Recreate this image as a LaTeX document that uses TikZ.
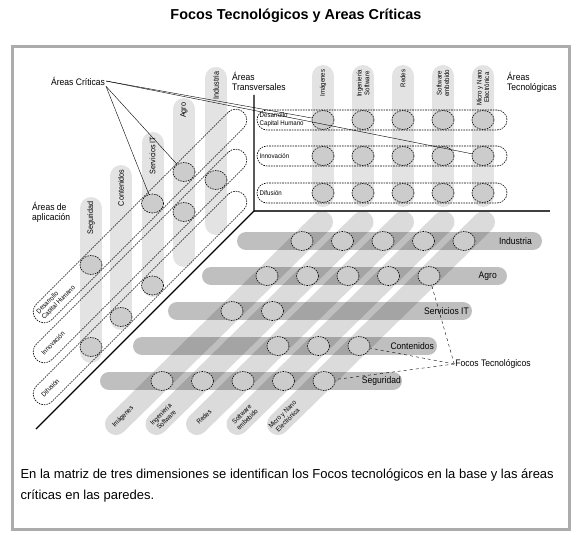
\documentclass[tikz,border=0pt]{standalone}
\usepackage{fontspec}
\setmainfont{Liberation Sans}
\newfontfamily\narrowfont{Liberation Sans}[FakeStretch=0.9]
\usetikzlibrary{shapes.geometric}

\begin{document}
\begin{tikzpicture}[x=1pt,y=-1pt,
    foco/.style={ellipse,draw,fill=gray!40,line width=0.6pt,dash pattern=on 1.6pt off 1pt,minimum width=22pt,minimum height=19pt,inner sep=0pt},
    capsula/.style={draw,line width=0.6pt,dash pattern=on 1.6pt off 1pt,rounded corners=10pt,minimum height=20pt,inner sep=0pt},
    barra/.style={line width=22pt,line cap=round,gray!22},
    fila/.style={line width=18pt,line cap=round,black,opacity=0.25},
    columna/.style={line width=22pt,line cap=round,black,opacity=0.14},
    etiq/.style={font=\narrowfont\fontsize{9.5}{10.5}\selectfont,inner sep=1pt},
    rotulo/.style={font=\narrowfont\fontsize{8}{8}\selectfont,inner sep=0.5pt},
    mini/.style={font=\narrowfont\fontsize{6.8}{7.6}\selectfont,inner sep=0.5pt,align=center}]
  \useasboundingbox (0,0) rectangle (582,535);
  \node[font=\bfseries\fontsize{14.4}{16}\selectfont] (titulo) at (296,16) {Focos Tecnológicos y Areas Críticas};
  \draw[line width=3pt,gray!65] (12,47) rectangle (569,529);

  % base
  \foreach \k in {0,...,4} \draw[columna] (322+40.5*\k,222) -- (116+40.5*\k,424);
  \foreach \a/\b/\y in {246/533/241,211/498/276,177/463/311,142/428/346,109/393/381}
    \draw[fila] (\a,\y) -- (\b,\y);

  % pared derecha
  \foreach \x in {323,363,403,443,483} \draw[barra] (\x,76) -- (\x,196);
  \foreach \y/\n in {120/d,156/i,193/f}
    \node[capsula,minimum width=250pt] (fila-\n) at (382,\y) {};

  % pared izquierda
  \foreach \x/\a/\b in {91/208/352,121/176/319,152.5/143/286,184/109/256,216/78/224}
    \draw[barra] (\x,\a) -- (\x,\b);
  \foreach \y/\n in {216/d,256/i,298/f}
    \node[capsula,minimum width=293pt,minimum height=22pt,rounded corners=11pt,rotate=45] (diag-\n) at (140,\y) {};

  % aristas
  \coordinate (esquina) at (254,211);
  \draw[line width=2.5pt,gray!50!black] (esquina) -- (550,211);
  \draw[line width=1.2pt] (254,95) -- (esquina) -- (36,429);

  % focos
  \foreach \x [count=\k] in {323,363,403,443,483}
    \foreach \y/\n in {120/d,156/i,193/f}
      \node[foco] (p-\n-\k) at (\x,\y) {};
  \foreach \x/\y/\n in {91/265/d1,152.5/203.5/d3,184/172/d4,184/212/i4,216/180/i5,91/347/f1,121/317/f2,152.5/285.5/f3}
    \node[foco] (l-\n) at (\x,\y) {};
  \foreach \r/\x/\ks in {1/302/{1,...,5},2/267/{1,...,5},3/232/{1,2},4/197/{3,4,5},5/162/{1,...,5}}
    \foreach \k in \ks
      \node[foco] (b-\r-\k) at (\x+40.5*\k-40.5,206+35*\r) {};

  % rotulos
  \foreach \x/\t [count=\k] in {323/Imágenes,363/{Ingeniería\\Software},403/Redes,443/{Software\\embebido},483/{Micro y Nano\\Electrónica}}
    \node[mini,rotate=90,anchor=east] (pc-\k) at (\x,69) {\t};
  \node[mini,align=left,anchor=west] (pf-d) at (259,120) {Desarrollo\\Capital Humano};
  \node[mini,anchor=west] (pf-i) at (259,156) {Innovación};
  \node[mini,anchor=west] (pf-f) at (259,193) {Difusión};
  \foreach \x/\y/\t [count=\k] in {91/201/Seguridad,121/169/Contenidos,152.5/136/Servicios IT,184/102/Agro,216/71/Industria}
    \node[rotulo,rotate=90,anchor=east] (lc-\k) at (\x,\y) {\t};
  \node[mini,rotate=45,anchor=west,align=left] (lf-d) at (40,316) {Desarrollo\\Capital Humano};
  \node[mini,rotate=45,anchor=west] (lf-i) at (42,354) {Innovación};
  \node[mini,rotate=45,anchor=west] (lf-f) at (42,396) {Difusión};
  \foreach \x/\y/\t [count=\r] in {533/241/Industria,498/276/Agro,470/311/Servicios IT,435/346/Contenidos,402/381/Seguridad}
    \node[etiq,anchor=east] (bf-\r) at (\x,\y) {\t};
  \foreach \t [count=\k] in {Imágenes,{Ingeniería\\Software},Redes,{Software\\embebido},{Micro y Nano\\Electrónica}}
    \node[mini,rotate=45] (bc-\k) at (123+40.5*\k-40.5,417) {\t};

  \node[etiq,anchor=north west,align=left] (transv) at (231,71) {Áreas\\Transversales};
  \node[etiq,anchor=north west,align=left] (tecno) at (506,71) {Áreas\\Tecnológicas};
  \node[etiq,anchor=north west,align=left] (aplic) at (31,201) {Áreas de\\aplicación};
  \node[etiq] (criticas) at (78,81) {Áreas Críticas};
  \node[etiq] (focos) at (493,364) {Focos Tecnológicos};

  \draw[thin] (criticas.east) -- (p-d-1);
  \draw[thin] (criticas.east) -- (p-i-5);
  \draw[thin] (criticas.south east) -- (l-d4);
  \draw[thin] (criticas.south east) -- (l-d3);
  \foreach \r in {2,4,5} \draw[thin,dashed] (focos.west) -- (b-\r-5);

  \node[anchor=west,align=left,font=\fontsize{13}{21}\selectfont] (nota) at (17,485.5)
    {En la matriz de tres dimensiones se identifican los Focos tecnológicos en la base y las áreas\\críticas en las paredes.};
\end{tikzpicture}
\end{document}
